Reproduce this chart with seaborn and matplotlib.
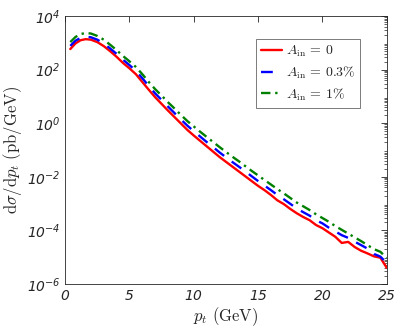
import numpy as np
import pandas as pd
import seaborn as sns
import matplotlib.pyplot as plt
from matplotlib.ticker import LogLocator, FixedLocator, FixedFormatter, NullFormatter

# transverse momentum grid (GeV)
pt = [0.4, 0.8, 1.2, 1.6, 2.0, 2.5, 3.0, 3.5, 4.0, 4.5, 5.0, 5.5, 6.0, 6.5,
      7.0, 7.5, 8.0, 8.5, 9.0, 9.5, 10.0, 10.5, 11.0, 11.5, 12.0, 12.5, 13.0,
      13.5, 14.0, 14.5, 15.0, 15.5, 16.0, 16.5, 17.0, 17.5, 18.0, 18.5, 19.0,
      19.5, 20.0, 20.5, 21.0, 21.5, 22.0, 22.5, 23.0, 23.5, 24.0, 24.5, 25.0]

# log10 of dsigma/dpt
log_a0 = [2.77, 2.98, 3.10, 3.14, 3.12, 3.03, 2.88, 2.69, 2.48, 2.25, 2.05, 1.83, 1.54, 1.25,
          0.97, 0.72, 0.47, 0.23, -0.01, -0.25, -0.46, -0.66, -0.86, -1.06, -1.26, -1.44, -1.62,
          -1.80, -1.98, -2.16, -2.34, -2.50, -2.68, -2.88, -3.02, -3.20, -3.36, -3.50, -3.62,
          -3.80, -3.92, -4.08, -4.24, -4.47, -4.43, -4.62, -4.76, -4.86, -4.97, -5.02, -5.40]
log_a03 = [2.89, 3.08, 3.19, 3.23, 3.21, 3.12, 2.98, 2.79, 2.59, 2.37, 2.17, 1.96, 1.68, 1.39,
           1.11, 0.87, 0.62, 0.38, 0.14, -0.09, -0.30, -0.50, -0.70, -0.89, -1.09, -1.27, -1.45,
           -1.62, -1.80, -1.98, -2.16, -2.33, -2.50, -2.68, -2.84, -3.01, -3.18, -3.32, -3.45,
           -3.62, -3.74, -3.90, -4.04, -4.18, -4.28, -4.42, -4.55, -4.68, -4.88, -4.98, -5.22]
log_a1 = [3.03, 3.22, 3.33, 3.37, 3.35, 3.26, 3.12, 2.93, 2.73, 2.51, 2.31, 2.10, 1.83, 1.54,
          1.27, 1.03, 0.78, 0.55, 0.31, 0.08, -0.12, -0.32, -0.51, -0.70, -0.89, -1.07, -1.25,
          -1.42, -1.60, -1.78, -1.95, -2.12, -2.29, -2.46, -2.62, -2.79, -2.96, -3.10, -3.24,
          -3.40, -3.54, -3.68, -3.84, -3.98, -4.12, -4.26, -4.40, -4.55, -4.70, -4.80, -5.03]

labels = [r'$A_\mathrm{in}\,=\,0$', r'$A_\mathrm{in}\,=\,0.3\%$', r'$A_\mathrm{in}\,=\,1\%$']
colors = ['#ff0000', '#0000ff', '#008000']
styles = ['-', (0, (5, 4)), (0, (4, 2, 1, 2))]

xticks = [0, 5, 10, 15, 20, 25]
yexp = [-6, -4, -2, 0, 2, 4]

sns.set_style('white')
# tick labels: oblique sans, also inside mathtext for the powers of ten
plt.rcParams['mathtext.fontset'] = 'custom'
plt.rcParams['mathtext.rm'] = 'DejaVu Sans:oblique'
plt.rcParams['mathtext.it'] = 'DejaVu Sans:oblique'
plt.rcParams['font.family'] = ['DejaVu Sans']

fig = plt.figure(figsize=(4.15, 3.29), dpi=100)
ax = fig.add_axes([0.157, 0.137, 0.775, 0.814])

for logs, lab, c, ls in zip([log_a0, log_a03, log_a1], labels, colors, styles):
    df = pd.DataFrame({'pt': pt, 'xs': 10.0 ** np.array(logs)})
    sns.lineplot(data=df, x='pt', y='xs', ax=ax, color=c, linewidth=1.7,
                 linestyle=ls, label=lab)

ax.set_yscale('log')
ax.set_xlim(0, 25)
ax.set_ylim(1e-6, 1e4)
ax.xaxis.set_major_locator(FixedLocator(xticks))
ax.xaxis.set_major_formatter(FixedFormatter([r'$%d$' % v for v in xticks]))
ax.yaxis.set_major_locator(FixedLocator([10.0 ** e for e in yexp]))
ax.yaxis.set_major_formatter(FixedFormatter([r'$10^{%d}$' % e for e in yexp]))
ax.yaxis.set_minor_locator(LogLocator(base=10, subs=np.arange(2, 10), numticks=20))
ax.yaxis.set_minor_formatter(NullFormatter())

ax.tick_params(which='both', direction='in', top=True, right=True,
               labelsize=10, colors='#262626')
ax.tick_params(which='major', length=4, width=0.6)
ax.tick_params(which='minor', length=2, width=0.5)
for s in ax.spines.values():
    s.set_color('#262626')
    s.set_linewidth(0.6)

xl = ax.set_xlabel(r'$p_t\ (\mathrm{GeV})$', fontsize=12, labelpad=2)
yl = ax.set_ylabel(r'$\mathrm{d}\sigma/\mathrm{d}p_t\ (\mathrm{pb/GeV})$', fontsize=12, labelpad=2)
xl.set_math_fontfamily('cm')
yl.set_math_fontfamily('cm')

leg = ax.legend(loc='upper right', bbox_to_anchor=(0.918, 0.916), fontsize=10,
                frameon=True, fancybox=False, handlelength=1.5, borderpad=0.35,
                labelspacing=0.4, handletextpad=0.3, borderaxespad=0)
leg.get_frame().set_edgecolor('#404040')
leg.get_frame().set_linewidth(0.6)
for t in leg.get_texts():
    t.set_math_fontfamily('cm')

fig.savefig('out.png', dpi=100)
